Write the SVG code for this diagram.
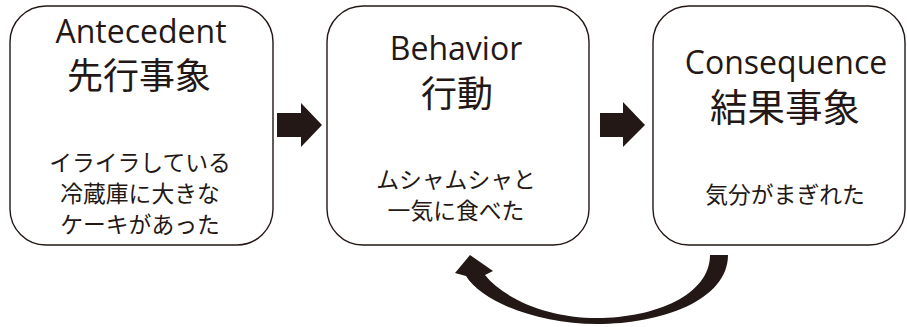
<svg xmlns="http://www.w3.org/2000/svg" width="907" height="327" viewBox="0 0 907 327">
<style>
.box{fill:#fff;stroke:#231815;stroke-width:1.4}
.en{font-family:"Open Sans","Noto Sans",sans-serif;font-size:32px;fill:#231815;text-anchor:middle}
.jt{font-family:"Noto Sans CJK JP",sans-serif;font-size:36px;fill:#231815;text-anchor:middle}
.jb{font-family:"Noto Sans CJK JP",sans-serif;font-size:22.8px;fill:#231815;text-anchor:middle}
.arr{fill:#231815}
</style>
<rect width="907" height="327" fill="#fff"/>
<g id="antecedent">
<rect class="box" x="10" y="6" width="263" height="239" rx="36"/>
<text class="en" x="141" y="43">Antecedent</text>
<text class="jt" x="139" y="89">先行事象</text>
<text class="jb" x="140" y="171">イライラしている</text>
<text class="jb" x="140" y="202">冷蔵庫に大きな</text>
<text class="jb" x="140" y="233">ケーキがあった</text>
</g>
<g id="behavior">
<rect class="box" x="327" y="6" width="262" height="239" rx="36"/>
<text class="en" x="456" y="60">Behavior</text>
<text class="jt" x="457" y="107">行動</text>
<text class="jb" x="456" y="188">ムシャムシャと</text>
<text class="jb" x="456" y="219">一気に食べた</text>
</g>
<g id="consequence">
<rect class="box" x="653" y="6" width="252" height="239" rx="36"/>
<text class="en" x="786" y="74">Consequence</text>
<text class="jt" x="785" y="121" style="font-size:37.5px">結果事象</text>
<text class="jb" x="785" y="203">気分がまぎれた</text>
</g>
<g id="connectors">
<polygon class="arr" points="277,113 301,113 301,103 322,125 301,147 301,137 277,137"/>
<polygon class="arr" points="600,113 623,113 623,102 645,125 623,147 623,137 600,137"/>
<path class="arr" d="M728,255 C728,300 662,324 597,324 C538,324 482,302 466,276 L455,273 L470,255 L493,271 L485,275 C505,300 550,318 597,318 C655,318 710,295 710,255 Z"/>
</g>
</svg>
